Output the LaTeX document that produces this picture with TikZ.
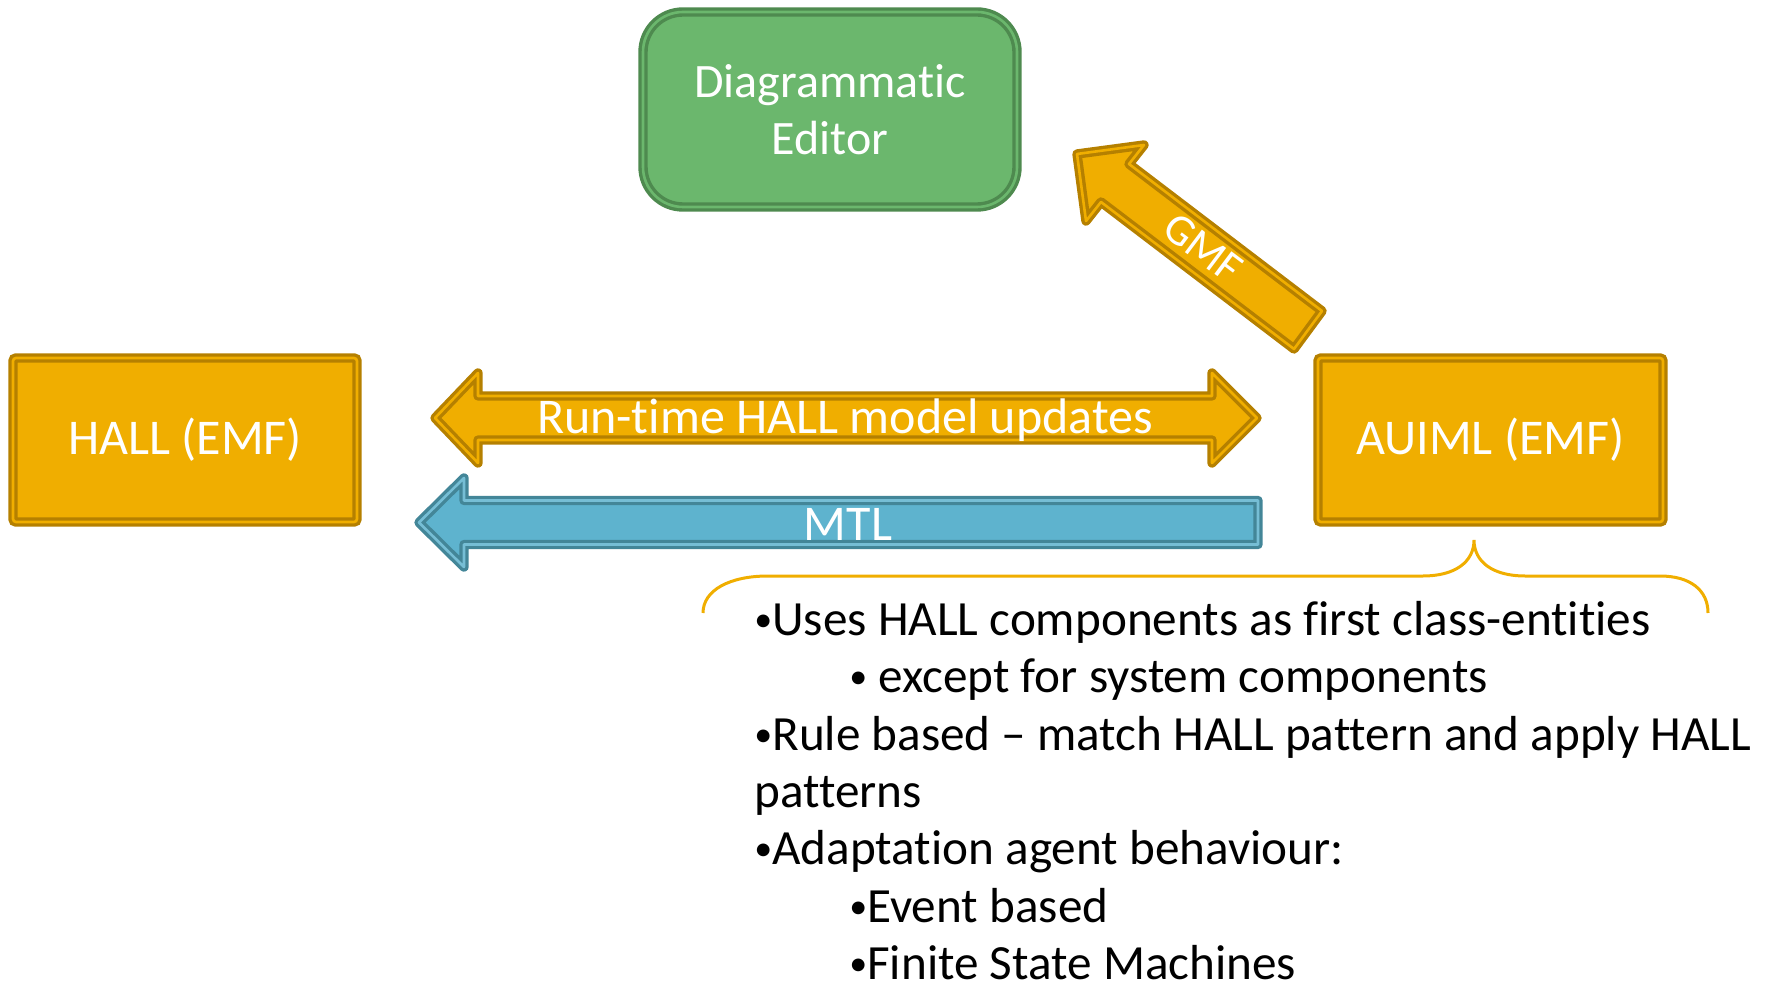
\documentclass[tikz,border=0pt]{standalone}
\usepackage{fontspec}
\setmainfont{Carlito}[Ligatures=NoCommon]
\definecolor{gold}{RGB}{240,174,0}
\definecolor{golddark}{RGB}{181,128,0}
\definecolor{grn}{RGB}{107,183,109}
\definecolor{grndark}{RGB}{78,138,79}
\definecolor{blu}{RGB}{94,179,206}
\definecolor{bludark}{RGB}{67,134,152}
\newcommand{\bul}{\raisebox{1.6pt}{\fontsize{18}{18}\selectfont •}}
\begin{document}
\begin{tikzpicture}[x=0.5pt,y=-0.5pt,
  goldbox/.style={rectangle, fill=gold, draw=golddark, double=gold, double distance=1.3pt, line width=1.7pt, rounded corners=1.5pt, text=white, font=\fontsize{25}{30}\selectfont, inner sep=0pt},
  greenbox/.style={rectangle, fill=grn, draw=grndark, double=grn, double distance=1.3pt, line width=1.7pt, rounded corners=20pt, text=white, font=\fontsize{24}{28.5}\selectfont, align=center, inner sep=0pt},
  goldarrow/.style={fill=gold, draw=golddark, double=gold, double distance=1.3pt, line width=1.7pt, line join=round},
  bluearrow/.style={fill=blu, draw=bludark, double=blu!85!white, double distance=1.3pt, line width=1.7pt, line join=round},
  arrowtext/.style={text=white, font=\fontsize{25}{30}\selectfont, inner sep=0pt},
  bracestyle/.style={draw=gold, line width=1.5pt},
  bodytext/.style={anchor=base west, font=\fontsize{24.6}{29}\selectfont, inner sep=0pt}
]
\useasboundingbox (0,0) rectangle (1771,983);

% boxes
\node[goldbox, minimum width=172pt, minimum height=82pt] (hall) at (185,440) {HALL (EMF)};
\node[goldbox, minimum width=172.5pt, minimum height=82pt] (auiml) at (1490.5,440) {AUIML (EMF)};
\node[greenbox, minimum width=187pt, minimum height=97.5pt] (editor) at (830,109.5) {Diagrammatic\\Editor};

% run-time double arrow
\draw[goldarrow] (435,418) -- (478,373) -- (478,396) -- (1212,396) -- (1212,373) -- (1257,418)
  -- (1212,463) -- (1212,440) -- (478,440) -- (478,463) -- cycle;
\node[arrowtext] (rtlabel) at (845,420) {Run-time HALL model updates};

% MTL arrow
\draw[bluearrow] (419,522.5) -- (464,478) -- (464,500.5) -- (1258,500.5) -- (1258,544.5)
  -- (464,544.5) -- (464,567) -- cycle;
\node[arrowtext] (mtllabel) at (848,524) {MTL};

% GMF arrow
\draw[goldarrow] (1322,311) -- (1129,164) -- (1144,145) -- (1077,154) -- (1086,221) -- (1101,202) -- (1294,349) -- cycle;
\node[arrowtext, font=\fontsize{22}{26}\selectfont, rotate=-37] (gmflabel) at (1203,248) {GMF};

% brace
\coordinate (bl) at (703,613);
\coordinate (tip) at (1474,540);
\coordinate (br) at (1708,613);
\draw[bracestyle] (bl) .. controls (703,590) and (730,576) .. (768,576) -- (1423,576)
  .. controls (1455,576) and (1474,562) .. (tip)
  .. controls (1474,562) and (1493,576) .. (1525,576) -- (1660,576)
  .. controls (1690,576) and (1708,590) .. (br);

% body text
\node[bodytext] (l1) at (754,635) {\bul Uses HALL components as first class-entities};
\node[bodytext] (l2) at (849,692) {\bul\ except for system components};
\node[bodytext] (l3) at (754,750) {\bul Rule based – match HALL pattern and apply HALL};
\node[bodytext] (l4) at (754,807) {patterns};
\node[bodytext] (l5) at (754,864) {\bul Adaptation agent behaviour:};
\node[bodytext] (l6) at (849,922) {\bul Event based};
\node[bodytext] (l7) at (849,979) {\bul Finite State Machines};
\end{tikzpicture}
\end{document}
